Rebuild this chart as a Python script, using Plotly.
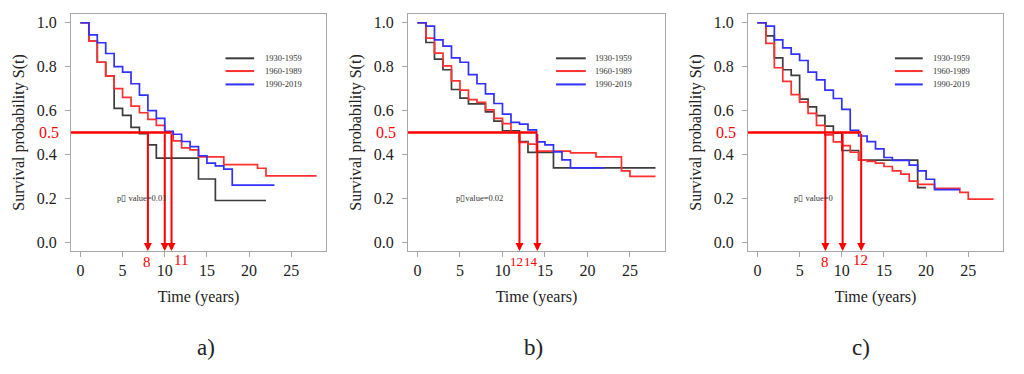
import plotly.graph_objects as go

# ---------------- data ----------------
SERIES = ["1930-1959", "1960-1989", "1990-2019"]

# panel a)
A_T_1930 = [0, 1, 2, 3, 4, 5, 6, 7, 8, 9, 14, 16, 22]
A_S_1930 = [1.0, 0.916, 0.82, 0.758, 0.61, 0.578, 0.523, 0.495, 0.444, 0.383, 0.288, 0.19, 0.19]
A_T_1960 = [0, 1, 2, 3, 4, 5, 6, 7, 8, 9, 10, 11, 12, 13, 14, 17, 21, 22, 28]
A_S_1960 = [1.0, 0.916, 0.82, 0.758, 0.70, 0.66, 0.62, 0.59, 0.56, 0.532, 0.50, 0.462, 0.43, 0.421,
            0.389, 0.354, 0.337, 0.302, 0.302]
A_T_1990 = [0, 1, 2, 3, 4, 5, 6, 7, 8, 9, 10, 11, 12, 13, 14, 15, 16, 17, 18, 23]
A_S_1990 = [1.0, 0.945, 0.909, 0.86, 0.80, 0.775, 0.722, 0.67, 0.60, 0.564, 0.505, 0.492, 0.459,
            0.436, 0.394, 0.36, 0.348, 0.333, 0.26, 0.26]
A_MEDIANS = [8, 10, 10.8]
A_LABELS = ["8", "11"]
A_LABEL_X = [7.9, 11.9]
A_PVALUE = "p\u25af value=0.01"

# panel b)
B_T_1930 = [0, 1, 2, 3, 4, 5, 6, 8, 9, 10, 12, 13, 16, 28]
B_S_1930 = [1.0, 0.91, 0.834, 0.786, 0.696, 0.657, 0.63, 0.594, 0.552, 0.508, 0.459, 0.409, 0.339, 0.339]
B_T_1960 = [0, 1, 2, 3, 4, 5, 6, 7, 8, 9, 10, 11, 12, 13, 14, 18, 21, 24, 25, 28]
B_S_1960 = [1.0, 0.93, 0.862, 0.804, 0.735, 0.693, 0.65, 0.637, 0.603, 0.564, 0.54, 0.50, 0.455,
            0.447, 0.415, 0.407, 0.389, 0.325, 0.30, 0.30]
B_T_1990 = [0, 1, 2, 3, 4, 5, 6, 7, 8, 9, 10, 11, 12, 13, 14, 15, 16, 17, 18, 22]
B_S_1990 = [1.0, 0.985, 0.922, 0.894, 0.84, 0.82, 0.764, 0.722, 0.676, 0.632, 0.584, 0.546, 0.538,
            0.512, 0.457, 0.444, 0.412, 0.375, 0.339, 0.339]
B_MEDIANS = [12, 14.1]
B_LABELS = ["12", "14"]
B_LABEL_X = [11.6, 13.4]
B_PVALUE = "p\u25afvalue=0.02"

# panel c)
C_T_1930 = [0, 1, 2, 3, 4, 5, 6, 7, 8, 9, 10, 12, 19, 20]
C_S_1930 = [1.0, 0.94, 0.84, 0.786, 0.76, 0.652, 0.617, 0.577, 0.529, 0.498, 0.418, 0.374, 0.249, 0.249]
C_T_1960 = [0, 1, 2, 3, 4, 5, 6, 7, 8, 9, 10, 11, 12, 13, 14, 15, 16, 17, 18, 19, 21, 24, 25, 28]
C_S_1960 = [1.0, 0.906, 0.795, 0.733, 0.673, 0.638, 0.587, 0.532, 0.489, 0.457, 0.44, 0.41, 0.374,
            0.368, 0.36, 0.345, 0.325, 0.31, 0.278, 0.264, 0.246, 0.227, 0.196, 0.196]
C_T_1990 = [0, 1, 2, 3, 4, 5, 6, 7, 8, 9, 10, 11, 12, 13, 14, 15, 16, 18, 19, 20, 21, 24]
C_S_1990 = [1.0, 0.985, 0.922, 0.886, 0.857, 0.828, 0.775, 0.74, 0.693, 0.655, 0.605, 0.51, 0.484,
            0.458, 0.425, 0.386, 0.373, 0.351, 0.325, 0.287, 0.24, 0.24]
C_MEDIANS = [8.05, 10.1, 12.3]
C_LABELS = ["8", "12"]
C_LABEL_X = [8.03, 12.16]
C_PVALUE = "p\u25af value=0"

PANEL_LETTERS = ["a)", "b)", "c)"]
X_TICKS = [0, 5, 10, 15, 20, 25]
Y_TICKS = [0.0, 0.2, 0.4, 0.6, 0.8, 1.0]
MEDIAN_LEVEL = 0.5

# ---------------- style ----------------
FONT = "Liberation Serif"
COLORS = ["#3c3c3c", "#ff3030", "#3030ff"]
MED_COLOR = "#ff0000"
BOX = "#a8a8a8"
TXT = "#222222"
XR = [-1.12, 29.12]
YR = [-0.04, 1.04]
X_DOMAINS = [[0.0693, 0.3184], [0.3984, 0.6494], [0.7305, 0.9795]]
Y_DOMAIN = [0.3289, 0.9626]
LEG_X = [[17.2, 20.6, 21.6], [16.3, 19.8, 20.6], [16.3, 19.6, 20.6]]
LEG_Y = [0.838, 0.78, 0.719]
PVAL_X = [7.3, 7.27, 6.6]
LABEL_Y_DOMAIN = [[-0.046, -0.037], [-0.046, -0.046], [-0.045, -0.037]]
LABEL_SIZES = [[15, 15], [13, 13], [15, 15]]

panels = [
    dict(curves=[(A_T_1930, A_S_1930), (A_T_1960, A_S_1960), (A_T_1990, A_S_1990)],
         med=A_MEDIANS, lab=A_LABELS, labx=A_LABEL_X, p=A_PVALUE),
    dict(curves=[(B_T_1930, B_S_1930), (B_T_1960, B_S_1960), (B_T_1990, B_S_1990)],
         med=B_MEDIANS, lab=B_LABELS, labx=B_LABEL_X, p=B_PVALUE),
    dict(curves=[(C_T_1930, C_S_1930), (C_T_1960, C_S_1960), (C_T_1990, C_S_1990)],
         med=C_MEDIANS, lab=C_LABELS, labx=C_LABEL_X, p=C_PVALUE),
]

fig = go.Figure()
annotations = []
shapes = []
layout = {}

for i, pnl in enumerate(panels):
    sfx = "" if i == 0 else str(i + 1)
    xa, ya = "x" + sfx, "y" + sfx
    # survival curves
    for (t, s), col, name in zip(pnl["curves"], COLORS, SERIES):
        fig.add_trace(go.Scatter(x=t, y=s, mode="lines", name=name, showlegend=False,
                                 line=dict(shape="hv", color=col, width=1.7),
                                 xaxis=xa, yaxis=ya, hoverinfo="skip"))
    # median horizontal line
    fig.add_trace(go.Scatter(x=[XR[0], max(pnl["med"])], y=[MEDIAN_LEVEL, MEDIAN_LEVEL],
                             mode="lines", showlegend=False, hoverinfo="skip",
                             line=dict(color=MED_COLOR, width=2.3), xaxis=xa, yaxis=ya))
    # median arrows
    for m in pnl["med"]:
        annotations.append(dict(x=m, y=YR[0], ax=m, ay=MEDIAN_LEVEL, xref=xa, yref=ya,
                                axref=xa, ayref=ya, text="", showarrow=True, arrowhead=2,
                                arrowsize=0.8, arrowwidth=2, arrowcolor=MED_COLOR, standoff=0))
    for lab, lx, lyd, fs in zip(pnl["lab"], pnl["labx"], LABEL_Y_DOMAIN[i], LABEL_SIZES[i]):
        annotations.append(dict(x=lx, y=lyd, xref=xa, yref=ya + " domain",
                                text=lab, showarrow=False, yanchor="middle",
                                font=dict(family=FONT, size=fs, color=MED_COLOR)))
    # red 0.5 label on y axis
    annotations.append(dict(x=XR[0], y=MEDIAN_LEVEL, xref=xa, yref=ya, text="0.5",
                            showarrow=False, xanchor="right", xshift=-10,
                            font=dict(family=FONT, size=16, color=MED_COLOR)))
    # p-value
    annotations.append(dict(x=PVAL_X[i], y=0.2, xref=xa, yref=ya, text=pnl["p"], showarrow=False,
                            font=dict(family=FONT, size=8.5, color="#333333")))
    # legend
    for name, col, ly in zip(SERIES, COLORS, LEG_Y):
        shapes.append(dict(type="line", xref=xa, yref=ya, x0=LEG_X[i][0], x1=LEG_X[i][1],
                           y0=ly, y1=ly, line=dict(color=col, width=2)))
        annotations.append(dict(x=LEG_X[i][2], y=ly, xref=xa, yref=ya, text=name, showarrow=False,
                                xanchor="left", font=dict(family=FONT, size=8.5, color="#333333")))
    # panel letter
    annotations.append(dict(x=(X_DOMAINS[i][0] + X_DOMAINS[i][1]) / 2 - 0.003, y=0.032,
                            xref="paper", yref="paper", text=PANEL_LETTERS[i], showarrow=False,
                            font=dict(family=FONT, size=23, color=TXT)))

    layout["xaxis" + sfx] = dict(
        domain=X_DOMAINS[i], range=XR, anchor=ya, tickvals=X_TICKS, showgrid=False,
        zeroline=False, showline=True, mirror=True, linecolor=BOX, linewidth=1,
        ticks="outside", ticklen=5, tickcolor=BOX, ticklabelstandoff=0,
        tickfont=dict(family=FONT, size=16, color=TXT),
        title=dict(text="Time (years)", standoff=12, font=dict(family=FONT, size=16, color=TXT)))
    layout["yaxis" + sfx] = dict(
        domain=Y_DOMAIN, range=YR, anchor=xa, tickvals=Y_TICKS, tickformat=".1f",
        showgrid=False, zeroline=False, showline=True, mirror=True, linecolor=BOX, linewidth=1,
        ticks="outside", ticklen=5, tickcolor=BOX, ticklabelstandoff=5,
        tickfont=dict(family=FONT, size=16, color=TXT),
        title=dict(text="Survival probability S(t)", standoff=8,
                   font=dict(family=FONT, size=16, color=TXT)))

fig.update_layout(width=1024, height=374, autosize=False, margin=dict(l=0, r=0, t=0, b=0),
                  paper_bgcolor="white", plot_bgcolor="white", annotations=annotations,
                  shapes=shapes, **layout)

fig.write_html("out.html", config={"displayModeBar": False},
               post_script="document.body.style.margin='0px';")
